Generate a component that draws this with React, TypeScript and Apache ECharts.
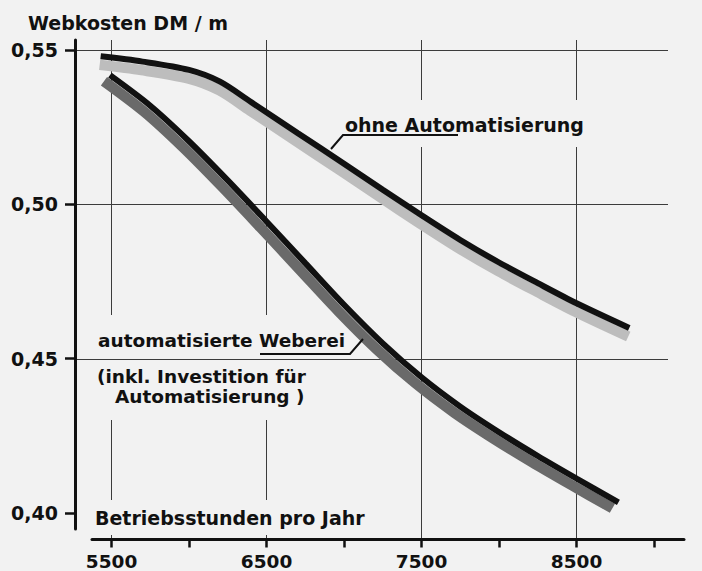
import React, { useEffect, useRef } from 'react';
import * as echarts from 'echarts';

// ---- data ----
const upperHours = [5430, 5700, 6000, 6200, 6400, 6700, 7000, 7250, 7500, 7750, 8000, 8250, 8500, 8840];
const upperCost = [0.5480, 0.5463, 0.5436, 0.5398, 0.5332, 0.5232, 0.5132, 0.5048, 0.4965, 0.4885, 0.4812, 0.4745, 0.4680, 0.4600];
const lowerHours = [5490, 5750, 6000, 6250, 6500, 6750, 7000, 7250, 7500, 7750, 8000, 8250, 8500, 8770];
const lowerCost = [0.5419, 0.5320, 0.5205, 0.5078, 0.4945, 0.4810, 0.4675, 0.4550, 0.4440, 0.4345, 0.4262, 0.4185, 0.4112, 0.4035];

const xTickValues = [5500, 6000, 6500, 7000, 7500, 8000, 8500, 9000];
const xLabelValues = [5500, 6500, 7500, 8500];
const xGridValues = [5500, 6500, 7500, 8500];
const yTickValues = [0.4, 0.45, 0.5, 0.55];
const yGridValues = [0.45, 0.5, 0.55];

const yTitle = 'Webkosten DM / m';
const xTitle = 'Betriebsstunden pro Jahr';
const upperLabel = 'ohne Automatisierung';
const lowerLabelLines = ['automatisierte Weberei', '(inkl. Investition für', 'Automatisierung )'];

// ---- styling ----
const BG = '#f2f2f2';
const INK = '#111111';
const GRIDC = '#3c3c3c';
const FONT = '"DejaVu Sans", sans-serif';

// axis extents (plot frame)
const X0 = [5264.5, 9090];
const Y0 = [0.3916, 0.5533];
const X3 = [5374, 9193.5];
const Y4 = [0.3948, 0.5533];

const pair = (xs: number[], ys: number[]) => xs.map((x, i) => [x, ys[i]]);

const hidden = (gridIndex: number, ext: number[]) => ({
  type: 'value', gridIndex, min: ext[0], max: ext[1], show: false,
});

const labelStyle = { fontFamily: FONT, fontWeight: 'bold', fontSize: 18.5, color: INK };

export default function App() {
  const ref = useRef<HTMLDivElement>(null);
  useEffect(() => {
    if (!ref.current) return;
    const chart = echarts.init(ref.current, null, { renderer: 'svg' });
    const gridBase = { outerBoundsMode: 'none', containLabel: false };
    chart.setOption({
      animation: false,
      backgroundColor: BG,
      grid: [
        { ...gridBase, left: 75, top: 40, width: 593, height: 499 },
        { ...gridBase, left: 74, top: 48.5, width: 593, height: 499 },
        { ...gridBase, left: 69, top: 46, width: 593, height: 499 },
        { ...gridBase, left: 92, top: 500, width: 592, height: 39.5 },
        { ...gridBase, left: 75, top: 40, width: 50, height: 489 },
      ],
      xAxis: [
        {
          type: 'value', gridIndex: 0, min: X0[0], max: X0[1], z: 0,
          axisLine: { show: false },
          axisTick: { show: false, customValues: xGridValues },
          axisLabel: { show: false },
          splitLine: { show: true, lineStyle: { color: GRIDC, width: 1 } },
        },
        hidden(1, X0),
        hidden(2, X0),
        {
          type: 'value', gridIndex: 3, min: X3[0], max: X3[1], z: 2,
          axisLine: { show: true, lineStyle: { color: INK, width: 3 } },
          axisTick: { show: true, length: 8, customValues: xTickValues, lineStyle: { color: INK, width: 2.5 } },
          axisLabel: {
            show: true, customValues: xLabelValues, margin: 12, ...labelStyle,
            formatter: (v: number) => String(Math.round(v)),
          },
          splitLine: { show: false },
        },
        hidden(4, [0, 1]),
      ],
      yAxis: [
        {
          type: 'value', gridIndex: 0, min: Y0[0], max: Y0[1], z: 2,
          axisLine: { show: false },
          axisTick: { show: false, customValues: yGridValues },
          axisLabel: { show: false },
          splitLine: { show: true, lineStyle: { color: GRIDC, width: 1 } },
        },
        hidden(1, Y0),
        hidden(2, Y0),
        hidden(3, [0, 1]),
        {
          type: 'value', gridIndex: 4, min: Y4[0], max: Y4[1], z: 2,
          axisLine: { show: true, lineStyle: { color: INK, width: 3 } },
          axisTick: { show: true, length: 10, customValues: yTickValues, lineStyle: { color: INK, width: 2.5 } },
          axisLabel: {
            show: true, customValues: yTickValues, margin: 17, ...labelStyle, fontSize: 19,
            formatter: (v: number) => v.toFixed(2).replace('.', ','),
          },
          splitLine: { show: false },
        },
      ],
      series: [
        {
          type: 'line', xAxisIndex: 1, yAxisIndex: 1, data: pair(upperHours, upperCost),
          smooth: 0.3, showSymbol: false, silent: true, z: 3,
          lineStyle: { color: '#bdbdbd', width: 10.5, cap: 'butt' },
        },
        {
          type: 'line', xAxisIndex: 2, yAxisIndex: 2, data: pair(lowerHours, lowerCost),
          smooth: 0.3, showSymbol: false, silent: true, z: 3,
          lineStyle: { color: '#6a6a6a', width: 10.5, cap: 'butt' },
        },
        {
          type: 'line', xAxisIndex: 0, yAxisIndex: 0, data: pair(upperHours, upperCost),
          smooth: 0.3, showSymbol: false, silent: true, z: 4,
          lineStyle: { color: INK, width: 6, cap: 'butt' },
        },
        {
          type: 'line', xAxisIndex: 0, yAxisIndex: 0, data: pair(lowerHours, lowerCost),
          smooth: 0.3, showSymbol: false, silent: true, z: 4,
          lineStyle: { color: INK, width: 6, cap: 'butt' },
        },
      ],
      graphic: [
        { type: 'rect', z: 1, silent: true, shape: { x: 340, y: 100, width: 250, height: 47 }, style: { fill: BG } },
        { type: 'rect', z: 1, silent: true, shape: { x: 92, y: 315, width: 255, height: 105 }, style: { fill: BG } },
        { type: 'rect', z: 1, silent: true, shape: { x: 90, y: 500, width: 280, height: 35 }, style: { fill: BG } },
        { type: 'text', z: 5, x: 28, y: 23, style: { text: yTitle, font: `bold 19px ${FONT}`, fill: INK, verticalAlign: 'middle' } },
        { type: 'text', z: 5, x: 95, y: 518, style: { text: xTitle, font: `bold 19px ${FONT}`, fill: INK, verticalAlign: 'middle' } },
        { type: 'text', z: 5, x: 345, y: 125, style: { text: upperLabel, font: `bold 19px ${FONT}`, fill: INK, verticalAlign: 'middle' } },
        { type: 'text', z: 5, x: 98, y: 340, style: { text: lowerLabelLines[0], font: `bold 18.5px ${FONT}`, fill: INK, verticalAlign: 'middle' } },
        { type: 'text', z: 5, x: 97, y: 376, style: { text: lowerLabelLines[1], font: `bold 18.5px ${FONT}`, fill: INK, verticalAlign: 'middle' } },
        { type: 'text', z: 5, x: 115, y: 396, style: { text: lowerLabelLines[2], font: `bold 18.5px ${FONT}`, fill: INK, verticalAlign: 'middle' } },
        { type: 'polyline', z: 5, silent: true, shape: { points: [[331, 149], [343, 135], [458, 135]] }, style: { stroke: INK, lineWidth: 2, fill: null } },
        { type: 'polyline', z: 5, silent: true, shape: { points: [[260, 354], [350, 354], [363, 339]] }, style: { stroke: INK, lineWidth: 2, fill: null } },
      ],
    });
    return () => chart.dispose();
  }, []);
  return (
    <div
      ref={ref}
      style={{ position: 'fixed', left: 0, top: 0, width: 702, height: 571 }}
    />
  );
}
